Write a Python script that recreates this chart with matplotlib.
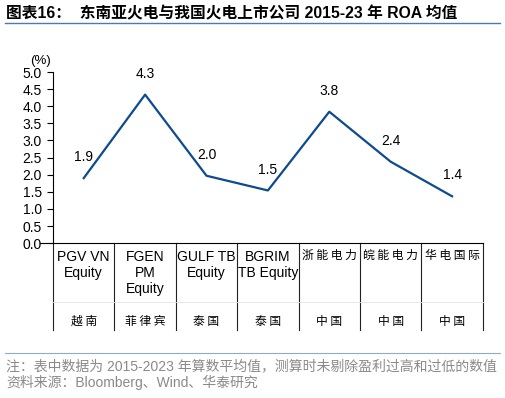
import numpy as np
import matplotlib
matplotlib.use("Agg")
import matplotlib.pyplot as plt
import matplotlib.transforms as mtransforms

plt.rcParams['font.family'] = ['Liberation Sans', 'Noto Sans CJK SC', 'DejaVu Sans']

companies = ['PGV VN\nEquity', 'FGEN\nPM\nEquity', 'GULF TB\nEquity', 'BGRIM\nTB Equity',
             '浙 能 电 力', '皖 能 电 力', '华 电 国 际']
countries = ['越南', '菲律宾', '泰国', '泰国', '中国', '中国', '中国']
roa = [1.90, 4.34, 1.97, 1.54, 3.84, 2.38, 1.37]
yticks = np.arange(0, 5.01, 0.5)

fig = plt.figure(figsize=(5.05, 3.98), dpi=100)
ax = fig.add_axes([0.105, 0.389, 0.851, 0.430])

x = np.arange(len(roa))
ax.plot(x, roa, color='#0d4a8f', linewidth=1.6)
for xi, v in zip(x, roa):
    ax.annotate('%.1f' % v, (xi, v), xytext=(0, 15), textcoords='offset points',
                ha='center', va='center', fontsize=10)

ax.set_xlim(-0.5, len(roa) - 0.5)
ax.set_ylim(0, 5)
ax.set_yticks(yticks)
ax.set_yticklabels(['%.1f' % t for t in yticks], fontsize=10)
ax.set_xticks([])
ax.tick_params(axis='y', direction='out', length=4, width=0.8, pad=4)
for s in ['top', 'right']:
    ax.spines[s].set_visible(False)
ax.spines['left'].set_linewidth(0.8)
ax.spines['bottom'].set_linewidth(0.8)
ax.spines['bottom'].set_bounds(-0.72, len(roa) - 0.5)

ax.text(-0.028, 1.03, '(%)', transform=ax.transAxes, ha='center', va='bottom', fontsize=9.5)

# table below the axis
trans = mtransforms.blended_transform_factory(ax.transData, ax.transAxes)
for sep in np.arange(-0.5, len(roa), 1.0):
    ax.plot([sep, sep], [0, -0.51], transform=trans, color='#222222', linewidth=0.8, clip_on=False)
ax.plot([-0.5, len(roa) - 0.5], [-0.345, -0.345], transform=trans, color='#e4e4e4',
        linewidth=0.6, clip_on=False)
for xi, name, c in zip(x, companies, countries):
    if name.isascii():
        ax.text(xi, -0.04, name, transform=trans, ha='center', va='top', fontsize=10,
                linespacing=1.2)
    else:
        ax.text(xi, -0.035, name, transform=trans, ha='center', va='top', fontsize=8.5,
                family=['Noto Sans CJK SC', 'DejaVu Sans'])
    ax.text(xi, -0.455, ' '.join(c), transform=trans, ha='center', va='center', fontsize=8.5,
            family=['Noto Sans CJK SC', 'DejaVu Sans'])

# title and footer
fig.text(0.012, 0.965, '图表16：  东南亚火电与我国火电上市公司 2015-23 年 ROA 均值',
         ha='left', va='center', fontsize=11.3, fontweight='bold',
         family=['Liberation Sans', 'Noto Sans CJK SC'])
fig.add_artist(plt.Line2D([0.01, 0.99], [0.942, 0.942], transform=fig.transFigure,
                          color='#4a7ab5', linewidth=1.0))
fig.add_artist(plt.Line2D([0.01, 0.99], [0.113, 0.113], transform=fig.transFigure,
                          color='#8eaad0', linewidth=0.8))
fig.text(0.012, 0.079, '注：表中数据为 2015-2023 年算数平均值，测算时未剔除盈利过高和过低的数值',
         ha='left', va='center', fontsize=10, color='#8a8a8a')
fig.text(0.012, 0.038, '资料来源：Bloomberg、Wind、华泰研究',
         ha='left', va='center', fontsize=10, color='#8a8a8a')

fig.savefig('out.png', dpi=100)
